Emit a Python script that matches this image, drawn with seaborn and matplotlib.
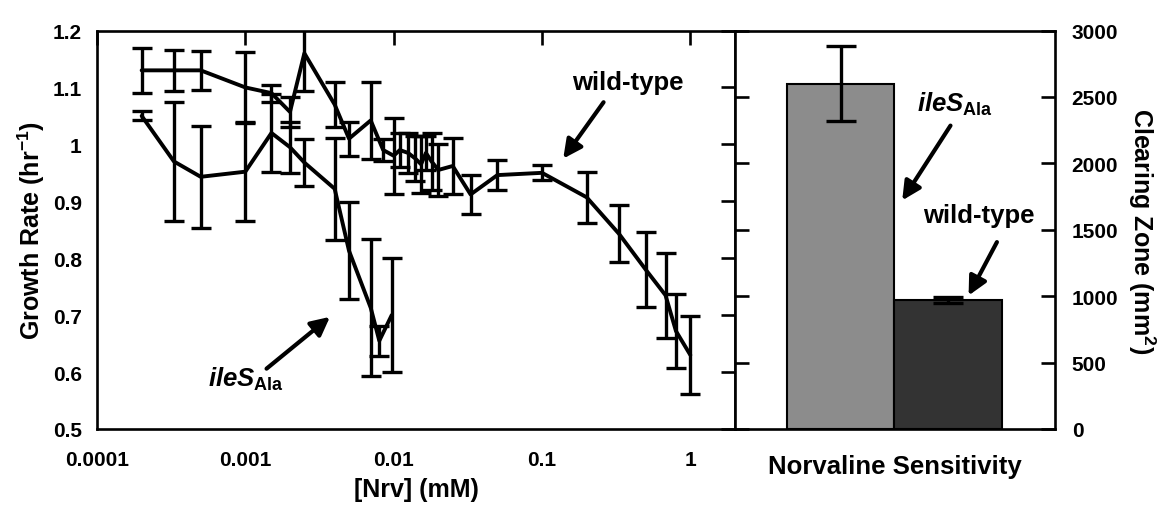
import matplotlib
matplotlib.use("Agg")
import matplotlib.pyplot as plt
import seaborn as sns
import pandas as pd
from matplotlib.ticker import NullLocator, FixedLocator

# growth rate vs norvaline concentration
wt_conc = [0.0002, 0.00033, 0.0005, 0.001, 0.0015, 0.002, 0.0025, 0.004, 0.005, 0.007,
           0.0085, 0.01, 0.011, 0.0125, 0.014, 0.0153, 0.0165, 0.018, 0.02, 0.025,
           0.033, 0.05, 0.1, 0.2, 0.33, 0.5, 0.68, 0.8, 1.0]
wt_rate = [1.13, 1.13, 1.13, 1.10, 1.09, 1.057, 1.16, 1.07, 1.01, 1.042,
           0.99, 0.98, 0.99, 0.985, 0.975, 0.965, 0.985, 0.97, 0.955, 0.962,
           0.912, 0.946, 0.95, 0.907, 0.843, 0.78, 0.735, 0.672, 0.63]
wt_err = [0.04, 0.036, 0.034, 0.062, 0.015, 0.026, 0.067, 0.04, 0.03, 0.067,
          0.02, 0.067, 0.03, 0.035, 0.04, 0.05, 0.03, 0.05, 0.045, 0.05,
          0.035, 0.027, 0.013, 0.045, 0.05, 0.066, 0.075, 0.065, 0.068]

ile_conc = [0.0002, 0.00033, 0.0005, 0.001, 0.0015, 0.002, 0.0025, 0.004, 0.005, 0.007, 0.008, 0.0097]
ile_rate = [1.05, 0.97, 0.943, 0.952, 1.02, 0.995, 0.968, 0.922, 0.813, 0.713, 0.655, 0.70]
ile_err = [0.008, 0.104, 0.09, 0.087, 0.068, 0.045, 0.041, 0.09, 0.085, 0.12, 0.026, 0.1]

# clearing zone bars
strains = ["ileS_Ala", "wild-type"]
zone = [2600, 970]
zone_err = [280, 25]
bar_colors = ["#8c8c8c", "#333333"]

x_ticks = [0.0001, 0.001, 0.01, 0.1, 1]
x_tick_labels = ["0.0001", "0.001", "0.01", "0.1", "1"]
y_ticks = [0.5, 0.6, 0.7, 0.8, 0.9, 1.0, 1.1, 1.2]
zone_ticks = [0, 500, 1000, 1500, 2000, 2500, 3000]

sns.set_theme(style="white")
plt.rcParams['font.family'] = ['Liberation Sans', 'DejaVu Sans']
plt.rcParams['font.weight'] = 'bold'
plt.rcParams['axes.labelweight'] = 'bold'
plt.rcParams['text.color'] = 'black'
plt.rcParams['axes.labelcolor'] = 'black'
plt.rcParams['xtick.color'] = 'black'
plt.rcParams['ytick.color'] = 'black'
plt.rcParams['mathtext.fontset'] = 'custom'
plt.rcParams['mathtext.rm'] = 'Liberation Sans:bold'
plt.rcParams['mathtext.bf'] = 'Liberation Sans:bold'
plt.rcParams['mathtext.it'] = 'Liberation Sans:italic:bold'
plt.rcParams['mathtext.default'] = 'bf'

W, H = 1168, 510
fig = plt.figure(figsize=(W / 100, H / 100), dpi=100)
ax1 = fig.add_axes([97 / W, 80 / H, 638 / W, 398.5 / H])
ax2 = fig.add_axes([735 / W, 80 / H, 320 / W, 398.5 / H])

LW = 2.4
TICK = dict(direction="in", length=10, width=1.9, labelsize=15, colors="black")

# ---- left panel ----
df_wt = pd.DataFrame({"conc": wt_conc, "rate": wt_rate})
df_ile = pd.DataFrame({"conc": ile_conc, "rate": ile_rate})
for df, err in [(df_wt, wt_err), (df_ile, ile_err)]:
    sns.lineplot(data=df, x="conc", y="rate", ax=ax1, color="black", lw=LW + 0.4)
    ax1.errorbar(df["conc"], df["rate"], yerr=err, fmt="none", ecolor="black",
                 elinewidth=LW, capsize=7, capthick=LW)

ax1.set_xscale("log")
ax1.set_xlim(1e-4, 2.0)
ax1.set_ylim(0.5, 1.2)
ax1.xaxis.set_major_locator(FixedLocator(x_ticks))
ax1.set_xticklabels(x_tick_labels)
ax1.xaxis.set_minor_locator(NullLocator())
ax1.set_yticks(y_ticks)
ax1.set_yticklabels([f"{v:g}" for v in y_ticks])
ax1.tick_params(axis="both", top=True, right=True, **TICK)
ax1.tick_params(axis="x", pad=15)
ax1.tick_params(axis="y", pad=11)
ax1.set_xlabel("[Nrv] (mM)", fontsize=18, labelpad=6)
ax1.set_ylabel("Growth Rate (hr$^{-1}$)", fontsize=18, labelpad=4)

arrow = dict(arrowstyle="-|>", color="black", lw=3, mutation_scale=28, shrinkA=0, shrinkB=0)
ax1.text(0.159, 1.097, "wild-type", fontsize=18.5, fontweight="bold", ha="left", va="baseline")
ax1.annotate("", xy=(0.139, 0.975), xytext=(0.26, 1.074), arrowprops=arrow)
ax1.text(5.6e-4, 0.576, r"$\mathit{ileS}_{\mathbf{Ala}}$", fontsize=18.5, ha="left", va="baseline")
ax1.annotate("", xy=(3.72e-3, 0.697), xytext=(1.39e-3, 0.606), arrowprops=arrow)

# ---- right panel ----
df_bar = pd.DataFrame({"strain": strains, "zone": zone})
sns.barplot(data=df_bar, x="strain", y="zone", hue="strain", palette=bar_colors,
            width=1.0, ax=ax2, edgecolor="black", linewidth=1.5, errorbar=None, legend=False)
ax2.errorbar([0, 1], zone, yerr=zone_err, fmt="none", ecolor="black",
             elinewidth=LW, capsize=11, capthick=LW)
ax2.set_xlim(-0.98, 1.99)
ax2.set_ylim(0, 3000)
ax2.set_xticks([])
ax2.set_yticks(zone_ticks)
ax2.yaxis.set_label_position("right")
ax2.tick_params(axis="y", left=True, right=True, labelleft=False, labelright=True, pad=12, **TICK)
ax2.set_xlabel("Norvaline Sensitivity", fontsize=18.5, labelpad=18)
ax2.set_ylabel("Clearing Zone (mm$^2$)", fontsize=18, rotation=270, labelpad=28)

ax2.text(0.713, 2397, r"$\mathit{ileS}_{\mathbf{Ala}}$", fontsize=18.5, ha="left", va="baseline")
ax2.annotate("", xy=(0.572, 1721), xytext=(1.02, 2284), arrowprops=arrow)
ax2.text(0.769, 1560, "wild-type", fontsize=18.5, fontweight="bold", ha="left", va="baseline")
ax2.annotate("", xy=(1.188, 1005), xytext=(1.451, 1407), arrowprops=arrow)

for ax in (ax1, ax2):
    for sp in ax.spines.values():
        sp.set_visible(True)
        sp.set_color("black")
        sp.set_linewidth(1.9)

fig.savefig("out.png", dpi=100)
